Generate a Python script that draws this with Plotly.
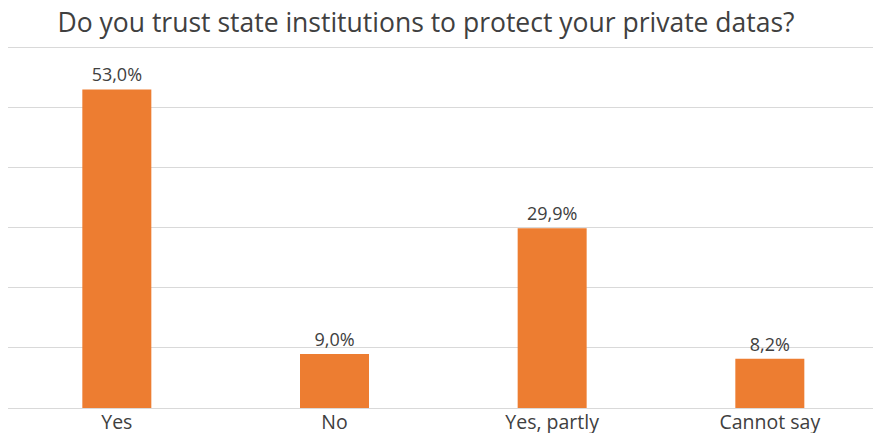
import plotly.graph_objects as go

categories = ["Yes", "No", "Yes, partly", "Cannot say"]
values = [53.0, 9.0, 29.9, 8.2]
labels = ["53,0%", "9,0%", "29,9%", "8,2%"]

FONT = "Open Sans"
fig = go.Figure(go.Bar(
    x=categories, y=values, text=labels, textposition="outside",
    marker=dict(color="#ED7D31", line=dict(width=0)),
    textfont=dict(size=18, color="#404040", family=FONT),
    cliponaxis=False,
))
fig.update_layout(
    width=873, height=433,
    margin=dict(l=8, r=0, t=45, b=25),
    paper_bgcolor="white", plot_bgcolor="white",
    bargap=0.683,
    showlegend=False,
    title=dict(text="Do you trust state institutions to protect your private datas?",
               x=0.488, xanchor="center", y=0.948, yanchor="middle",
               font=dict(size=26.5, color="#404040", family=FONT)),
    font=dict(family=FONT, color="#404040"),
)
fig.update_yaxes(range=[0, 60.4], tickvals=[0, 10, 20, 30, 40, 50, 60], showticklabels=False,
                 showgrid=True, gridcolor="#D9D9D9", gridwidth=1,
                 zeroline=True, zerolinecolor="#D9D9D9", zerolinewidth=1)
fig.update_xaxes(tickfont=dict(size=19.5, color="#404040", family=FONT),
                 range=[-0.5, 3.474], ticklabelstandoff=0,
                 showline=False, ticks="", automargin=False)
fig.write_html("out.html")
